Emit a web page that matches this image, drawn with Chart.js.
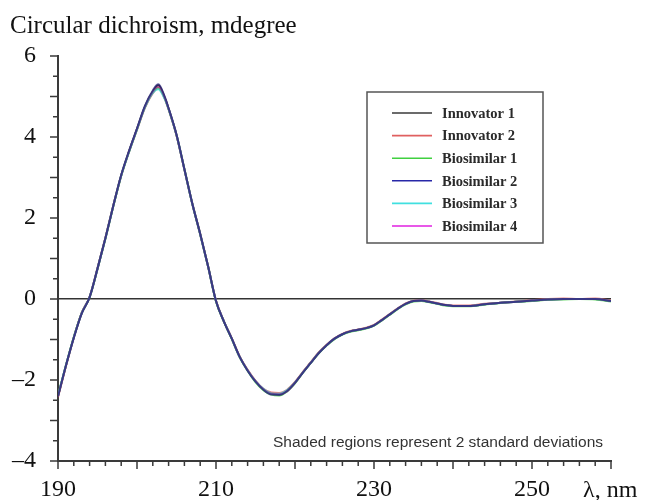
<!DOCTYPE html>
<html>
<head>
<meta charset="utf-8">
<script src="https://cdn.jsdelivr.net/npm/chart.js@4.4.1/dist/chart.umd.min.js"></script>
<style>
  body { margin: 0; background: #fff; }
  canvas { display: block; }
</style>
</head>
<body>
<canvas id="cd" width="649" height="500"></canvas>
<script>
// wavelength, nm
const wavelengths = [190, 191, 192, 193, 194, 195, 196, 197, 198, 199, 200, 201, 202, 202.7, 203.5,
  204, 205, 206, 207, 208, 209, 210, 211, 212, 213, 214, 215, 216, 217, 218, 219, 220, 221, 222,
  223, 224, 225, 226, 227, 228, 229, 230, 231, 232, 233, 234, 235, 236, 237, 238, 239, 240,
  242, 244, 246, 248, 250, 252, 254, 256, 258, 260];

// CD signal, mdegree
const innovator1 = [-2.40, -1.65, -0.95, -0.35, 0.05, 0.75, 1.50, 2.30, 3.05, 3.65, 4.20, 4.75, 5.12, 5.28, 4.98,
  4.70, 4.05, 3.20, 2.35, 1.60, 0.80, -0.05, -0.55, -0.98, -1.43, -1.76, -2.03, -2.23, -2.34, -2.35, -2.26, -2.06, -1.81, -1.57,
  -1.33, -1.14, -0.98, -0.87, -0.80, -0.76, -0.72, -0.65, -0.52, -0.38, -0.24, -0.12, -0.05, -0.04, -0.07, -0.11, -0.15, -0.17,
  -0.17, -0.13, -0.09, -0.07, -0.04, -0.01, 0.00, 0.00, 0.00, -0.05];
const innovator2 = [-2.42, -1.66, -0.95, -0.34, 0.05, 0.76, 1.51, 2.31, 3.05, 3.64, 4.18, 4.72, 5.08, 5.22, 4.95,
  4.68, 4.04, 3.20, 2.36, 1.61, 0.81, -0.04, -0.55, -0.97, -1.42, -1.75, -2.02, -2.22, -2.31, -2.32, -2.24, -2.05, -1.80, -1.56,
  -1.32, -1.13, -0.97, -0.86, -0.79, -0.75, -0.71, -0.64, -0.51, -0.37, -0.23, -0.11, -0.04, -0.03, -0.06, -0.10, -0.14, -0.16,
  -0.16, -0.12, -0.09, -0.06, -0.03, 0.00, 0.01, 0.00, 0.01, -0.04];
const biosimilar1 = [-2.38, -1.64, -0.94, -0.35, 0.04, 0.74, 1.49, 2.29, 3.04, 3.64, 4.19, 4.73, 5.10, 5.20, 4.96,
  4.69, 4.05, 3.21, 2.35, 1.60, 0.80, -0.06, -0.56, -0.99, -1.44, -1.77, -2.05, -2.25, -2.36, -2.38, -2.28, -2.08, -1.82, -1.58,
  -1.34, -1.15, -0.99, -0.88, -0.81, -0.77, -0.73, -0.66, -0.53, -0.39, -0.25, -0.13, -0.06, -0.05, -0.08, -0.12, -0.16, -0.18,
  -0.18, -0.14, -0.10, -0.07, -0.05, -0.02, -0.01, 0.00, -0.01, -0.06];
const biosimilar2 = [-2.41, -1.65, -0.96, -0.36, 0.04, 0.75, 1.50, 2.30, 3.06, 3.66, 4.21, 4.77, 5.15, 5.30, 5.00,
  4.71, 4.06, 3.21, 2.36, 1.61, 0.81, -0.05, -0.56, -0.98, -1.43, -1.77, -2.04, -2.24, -2.36, -2.37, -2.27, -2.07, -1.82, -1.58,
  -1.34, -1.14, -0.98, -0.87, -0.80, -0.76, -0.72, -0.65, -0.52, -0.38, -0.24, -0.12, -0.05, -0.04, -0.07, -0.11, -0.15, -0.17,
  -0.17, -0.13, -0.09, -0.07, -0.04, -0.01, 0.00, 0.00, 0.00, -0.05];
const biosimilar3 = [-2.39, -1.64, -0.95, -0.35, 0.05, 0.75, 1.50, 2.30, 3.05, 3.64, 4.19, 4.73, 5.09, 5.18, 4.94,
  4.69, 4.05, 3.20, 2.35, 1.60, 0.80, -0.05, -0.55, -0.98, -1.43, -1.76, -2.03, -2.22, -2.33, -2.34, -2.25, -2.06, -1.81, -1.57,
  -1.33, -1.14, -0.98, -0.87, -0.80, -0.76, -0.72, -0.65, -0.52, -0.38, -0.24, -0.12, -0.05, -0.04, -0.07, -0.11, -0.15, -0.17,
  -0.17, -0.13, -0.09, -0.07, -0.04, -0.01, 0.00, 0.00, 0.00, -0.05];
const biosimilar4 = [-2.40, -1.65, -0.95, -0.35, 0.05, 0.75, 1.50, 2.30, 3.05, 3.65, 4.20, 4.74, 5.11, 5.24, 4.97,
  4.70, 4.05, 3.20, 2.35, 1.60, 0.80, -0.05, -0.55, -0.98, -1.43, -1.76, -2.03, -2.23, -2.34, -2.35, -2.28, -2.07, -1.81, -1.57,
  -1.33, -1.14, -0.98, -0.87, -0.80, -0.76, -0.72, -0.65, -0.52, -0.38, -0.24, -0.12, -0.05, -0.04, -0.07, -0.11, -0.15, -0.17,
  -0.17, -0.13, -0.09, -0.07, -0.04, -0.01, 0.00, 0.00, 0.00, -0.05];

const seriesNames = ['Innovator 1', 'Innovator 2', 'Biosimilar 1', 'Biosimilar 2', 'Biosimilar 3', 'Biosimilar 4'];
const seriesData = [innovator1, innovator2, biosimilar1, biosimilar2, biosimilar3, biosimilar4];
const lineColors = ['#3a3a3a', '#e06060', '#40d040', '#2828a8', '#40e0e0', '#e020e0'];
const plotColors = ['#3a3a3a', 'rgba(224,96,96,0.8)', 'rgba(64,208,64,0.8)', 'rgba(36,28,120,0.7)', 'rgba(64,224,224,0.7)', 'rgba(150,30,150,0.5)'];
const drawOrder = [5, 4, 3, 0, 2, 1]; // lower is drawn on top
const xLabelTicks = [190, 210, 230, 250];

const datasets = seriesNames.map((name, i) => ({
  label: name,
  data: wavelengths.map((w, j) => ({ x: w, y: seriesData[i][j] })),
  borderColor: plotColors[i],
  legendColor: lineColors[i],
  order: drawOrder[i],
  borderWidth: 2,
  pointRadius: 0,
  cubicInterpolationMode: 'monotone',
  fill: false
}));

// minor/major tick marks, legend box and loose text
const decorations = {
  id: 'decorations',
  afterDraw(chart) {
    const ctx = chart.ctx;
    const xs = chart.scales.x;
    const ys = chart.scales.y;
    const area = chart.chartArea;
    ctx.save();
    ctx.strokeStyle = '#3a3a3a';
    ctx.lineWidth = 1.5;
    ctx.beginPath();
    for (let w = 190; w <= 260; w += 2) {
      const px = xs.getPixelForValue(w);
      const len = w % 10 === 0 ? 8 : 5;
      ctx.moveTo(px, area.bottom);
      ctx.lineTo(px, area.bottom + len);
    }
    for (let v = -4; v <= 6; v += 0.5) {
      const py = ys.getPixelForValue(v);
      const len = Number.isInteger(v) ? 8 : 5;
      ctx.moveTo(area.left, py);
      ctx.lineTo(area.left - len, py);
    }
    ctx.stroke();

    // legend
    const lx = 367, ly = 92, lw = 176, lh = 151;
    ctx.fillStyle = '#fff';
    ctx.fillRect(lx, ly, lw, lh);
    ctx.strokeStyle = '#555';
    ctx.lineWidth = 1.5;
    ctx.strokeRect(lx, ly, lw, lh);
    ctx.font = 'bold 14.5px "Liberation Serif"';
    ctx.textBaseline = 'middle';
    ctx.textAlign = 'left';
    chart.data.datasets.forEach((ds, i) => {
      const ry = 113 + i * 22.6;
      ctx.strokeStyle = ds.legendColor;
      ctx.lineWidth = 1.6;
      ctx.beginPath();
      ctx.moveTo(392, ry);
      ctx.lineTo(432, ry);
      ctx.stroke();
      ctx.fillStyle = '#2a2a2a';
      ctx.fillText(ds.label, 442, ry + 1);
    });

    // titles and note
    ctx.fillStyle = '#111';
    ctx.textBaseline = 'alphabetic';
    ctx.font = '25px "Liberation Serif"';
    ctx.fillText('Circular dichroism, mdegree', 10, 33);
    ctx.font = '24px "Liberation Serif"';
    ctx.fillText('λ, nm', 583, 497);
    ctx.fillStyle = '#333';
    ctx.font = '15.5px "Liberation Sans"';
    ctx.textAlign = 'right';
    ctx.fillText('Shaded regions represent 2 standard deviations', 603, 447);
    ctx.restore();
  }
};

new Chart(document.getElementById('cd'), {
  type: 'line',
  data: { datasets: datasets },
  options: {
    responsive: false,
    animation: false,
    devicePixelRatio: 1,
    layout: { padding: { top: 56, right: 38, left: 0, bottom: 0 } },
    plugins: {
      legend: { display: false },
      tooltip: { enabled: false },
      title: { display: false }
    },
    scales: {
      x: {
        type: 'linear',
        min: 190,
        max: 260,
        border: { display: true, color: '#3a3a3a', width: 2 },
        grid: { display: false, drawTicks: false },
        ticks: {
          stepSize: 2,
          autoSkip: false,
          maxRotation: 0,
          padding: 14,
          color: '#111',
          font: { family: 'Liberation Serif', size: 24 },
          callback: v => xLabelTicks.includes(v) ? String(v) : ''
        },
        afterFit(s) { s.height = 39; }
      },
      y: {
        min: -4,
        max: 6,
        border: { display: true, color: '#3a3a3a', width: 2 },
        grid: {
          drawTicks: false,
          lineWidth: 1.5,
          color: c => (c.tick && c.tick.value === 0) ? '#333' : 'rgba(0,0,0,0)'
        },
        ticks: {
          stepSize: 0.5,
          autoSkip: false,
          padding: 22,
          color: '#111',
          font: { family: 'Liberation Serif', size: 24 },
          callback: v => (v % 2 === 0) ? (v < 0 ? '–' + Math.abs(v) : String(v)) : ''
        },
        afterFit(s) { s.width = 58; }
      }
    }
  },
  plugins: [decorations]
});
</script>
</body>
</html>
